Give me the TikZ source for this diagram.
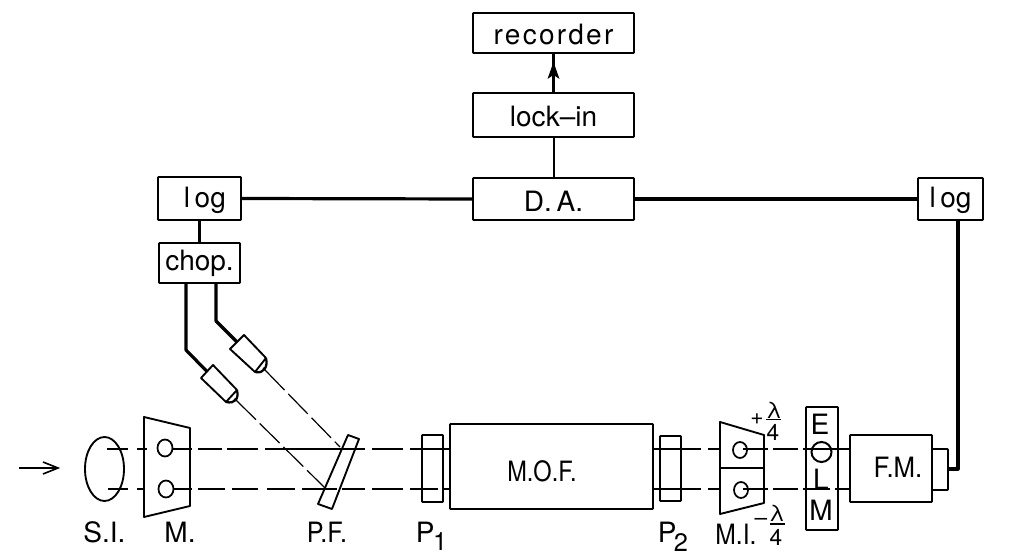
\documentclass[tikz,border=0pt]{standalone}
\usepackage{fontspec}
\setmainfont{TeX Gyre Heros}
\usetikzlibrary{calc}
\tikzset{
  px/.style={x=0.75pt,y=-0.75pt},
  boxfit/.style n args={3}{draw,line width=1.4pt,rounded corners=0.6pt,inner sep=0pt,outer sep=0pt,anchor=base,
    minimum width=#1*0.75pt,text height=#2*0.75pt,text depth=#3*0.75pt,
    font=\fontsize{21}{21}\selectfont},
  plainbox/.style={draw,line width=1.4pt,rounded corners=0.6pt},
  wire/.style={line width=2.4pt,line join=round},
  wiremed/.style={line width=1.5pt},
  outline/.style={line width=1.4pt,line join=round},
  beamseg/.style={line width=1.3pt},
  diagbeam/.style={line width=0.9pt,dash pattern=on 21pt off 4pt},
  lab/.style={font=\fontsize{21}{21}\selectfont,inner sep=0pt,anchor=base},
  frac/.style={font=\fontsize{17}{17}\selectfont,inner sep=0pt},
}
\begin{document}
\begin{tikzpicture}[px]
\useasboundingbox (0,0) rectangle (1014,555);
% electronics boxes
\node[boxfit={161}{32}{8}] (rec) at (553.5,45) {\addfontfeature{LetterSpace=8}recorder};
\node[boxfit={161}{34}{10}] (lock) at (553.5,127) {lock--in};
\node[boxfit={161}{34}{8}] (da) at (553.5,212) {D.\,A.};
\node[boxfit={83}{31}{12}] (logl) at (199.5,208) {\hspace*{8pt}l\,og};
\node[boxfit={81}{28}{12}] (chop) at (199.5,271) {chop.};
\node[boxfit={65}{30}{12}] (logr) at (950.5,208) {l\,og};
% electronics wiring
\draw[wire] (logl.east) -- (da.west);
\draw[wire] (da.east) -- (logr.west);
\draw[wire] (logl.south) -- (chop.north);
\draw[wiremed] (lock.south) -- (da.north);
\draw[wire] (lock.north) -- (rec.south);
\fill ($(rec.south)+(0,9)$) -- ++(-6,17) -- ++(6,-4) -- ++(6,4) -- cycle;
% detectors
\coordinate (d1a) at (213,365); \coordinate (d1b) at (237,390);
\coordinate (d1c) at (226,402); \coordinate (d1d) at (201,378);
\coordinate (d2a) at (244,335); \coordinate (d2b) at (266,358);
\coordinate (d2c) at (255,372); \coordinate (d2d) at (230,349);
\foreach \d in {d1,d2}{
  \draw[outline] (\d a) -- (\d b) -- (\d c) -- (\d d) -- cycle;
  \draw[line width=1.7pt] (\d b) .. controls ($(\d b)+(2,9)$) and ($(\d c)+(9,2)$) .. (\d c);
  \fill ($(\d b)!0.5!(\d c)+(3.5,3.5)$) circle (1.5);
}
% wires chopper to detectors
\draw[wire] (186,283) -- (186,350) -- ($(d1a)!0.5!(d1d)$);
\draw[wire] (216,283) -- (216,321) -- ($(d2a)!0.5!(d2d)$);
% light beams from detectors to the plate
\draw[diagbeam] (236,400) -- (325,488);
\draw[diagbeam] (265,370) -- (340,447);
% main beams
\foreach \a/\b in {107/128,137/147,173/192,198/222,227/258,265/365,372/403,410/450,653/701,708/720,743/768,773/798,803/850}
  \draw[beamseg] (\a,449) -- (\b,449);
\foreach \a/\b in {108/128,137/145,173/192,198/225,232/258,267/295,302/337,342/365,372/403,410/438,443/450,653/701,708/720,743/768,773/798,803/830,835/850}
  \draw[beamseg] (\a,489) -- (\b,489);
% input arrow
\draw[line width=1.2pt] (19,468) -- (57,468);
\draw[line width=1.2pt,line join=miter] (43,462) -- (58,468) -- (43,474);
% source
\draw[line width=1.4pt] (104.5,469) ellipse [x radius=19.5,y radius=32];
% monochromator
\draw[outline] (144,417) -- (190,428) -- (190,506) -- (144,517) -- cycle;
\draw[line width=1.3pt] (165,448) ellipse [x radius=7.5,y radius=8.5];
\draw[line width=1.3pt] (166,489) ellipse [x radius=7.5,y radius=8.5];
% plate
\draw[outline] (348,435) -- (359,439) -- (332,509) -- (318,504) -- cycle;
% polarisers and furnace
\draw[plainbox] (422,435) rectangle (443,502);
\node[plainbox,minimum width=152.25pt,minimum height=63.75pt,inner sep=0pt] (mof) at (551.5,466.5) {};
\node[lab,xscale=0.84,transform shape] at (542,482) {M.O.F.};
\draw[plainbox] (660,436) rectangle (681,501);
% modulator
\draw[outline] (720,422) -- (764,435) -- (764,503) -- (720,514) -- cycle;
\draw[outline] (720,468) -- (764,468);
\draw[line width=1.3pt] (740,450) ellipse [x radius=7,y radius=8];
\draw[line width=1.3pt] (741,490) ellipse [x radius=7,y radius=8];
% EOLM
\draw[plainbox] (806,407) rectangle (838,530);
\node[lab] (e) at (820,435) {E};
\draw[line width=1.5pt] (821.5,452) ellipse [x radius=10,y radius=10];
\node[lab] (l) at (821,490) {L};
\node[lab] (m) at (821,521) {M};
% photomultiplier
\node[plainbox,minimum width=61.5pt,minimum height=50.25pt,inner sep=0pt] (fm) at (891,468.5) {};
\node[lab,xscale=0.92,transform shape] at (898,478) {F.M.};
\draw[outline,rounded corners=0.6pt] (932,449) -- (948,449) -- (948,490) -- (932,490);
\draw[wire] (948,469) -- (958,469) -- ($(logr.south)+(7.5,0)$);
% fractions
\node[frac] at (757,419) {+};
\node[frac] at (774,410) {λ};
\draw[line width=1.1pt] (766,419.5) -- (781,419.5);
\node[frac] at (773,432) {4};
\node[frac] at (761,522) {–};
\node[frac] at (777,513) {λ};
\draw[line width=1.1pt] (770,524) -- (785,524);
\node[frac] at (776,537) {4};
% labels
\node[lab] at (104.5,543) {S.I.};
\node[lab] at (180,543) {M.};
\node[lab,xscale=0.9,transform shape] at (327,542) {P.F.};
\node[lab] at (431.5,542) {P\kern-1pt\raisebox{-6pt}{\fontsize{19}{19}\selectfont 1}};
\node[lab] at (673,543) {P\kern-2pt\raisebox{-6.5pt}{\fontsize{19}{19}\selectfont 2}};
\node[lab,xscale=0.88,transform shape] at (736,545) {M.I.};
\end{tikzpicture}
\end{document}
